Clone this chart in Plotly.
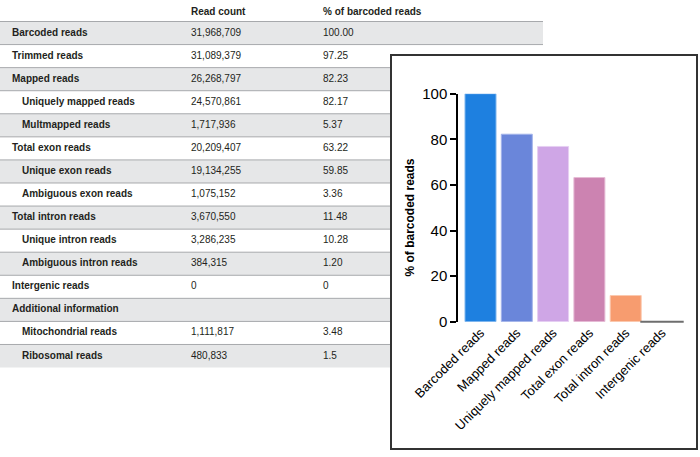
import plotly.graph_objects as go

# ---------------- Table data ----------------
row_labels = ["Barcoded reads", "Trimmed reads", "Mapped reads", "Uniquely mapped reads",
              "Multmapped reads", "Total exon reads", "Unique exon reads", "Ambiguous exon reads",
              "Total intron reads", "Unique intron reads", "Ambiguous intron reads",
              "Intergenic reads", "Additional information", "Mitochondrial reads", "Ribosomal reads"]
row_indent = [0, 0, 0, 1, 1, 0, 1, 1, 0, 1, 1, 0, 0, 1, 1]
read_counts = ["31,968,709", "31,089,379", "26,268,797", "24,570,861", "1,717,936", "20,209,407",
               "19,134,255", "1,075,152", "3,670,550", "3,286,235", "384,315", "0", "",
               "1,111,817", "480,833"]
pct_barcoded = ["100.00", "97.25", "82.23", "82.17", "5.37", "63.22", "59.85", "3.36",
                "11.48", "10.28", "1.20", "0", "", "3.48", "1.5"]
col_headers = ["Read count", "% of barcoded reads"]

# ---------------- Bar chart data ----------------
bar_categories = ["Barcoded reads", "Mapped reads", "Uniquely mapped reads",
                  "Total exon reads", "Total intron reads", "Intergenic reads"]
bar_values = [100.0, 82.23, 76.86, 63.22, 11.48, 0.0]
bar_colors = ["#1e80e0", "#6a86da", "#cfa6e6", "#cc83b1", "#f79c6f", "#6e6e6e"]
bar_edge_colors = ["#7fb6ee", "#a3b3ea", "#e6cff2", "#e6bcd6", "#fbc9af", "#6e6e6e"]
y_ticks = [0, 20, 40, 60, 80, 100]
y_title = "% of barcoded reads"

# ---------------- Layout constants ----------------
W, H = 700, 457
FONT = "Liberation Sans, Arial, Helvetica, sans-serif"
TXT = "#231f20"
TABLE_W = 543
TABLE_TOP = 21.5
ROW_H = 23.07
LABEL_X = [12, 22]
COL_X = [191, 323]
GRAY_ROW = "#e6e7e8"
SEP = "#a7a9ac"

fig = go.Figure()
n = len(row_labels)

# row backgrounds (alternate rows shaded)
gray_rows = [k for k in range(n) if k % 2 == 0]
fig.add_trace(go.Bar(
    orientation="h", y=[k + 0.5 for k in gray_rows], x=[TABLE_W] * len(gray_rows),
    base=0, width=1, marker=dict(color=GRAY_ROW, line=dict(width=0)),
    hoverinfo="skip", showlegend=False, xaxis="x", yaxis="y"))

# separators between rows
sx, sy = [], []
for k in range(n):
    sx += [0, TABLE_W, None]
    sy += [k, k, None]
fig.add_trace(go.Scatter(x=sx, y=sy, mode="lines", line=dict(color=SEP, width=1),
                         hoverinfo="skip", showlegend=False, xaxis="x", yaxis="y"))

# header
fig.add_trace(go.Scatter(x=COL_X, y=[-0.37, -0.37], mode="text",
                         text=[f"<b>{h}</b>" for h in col_headers], textposition="middle right",
                         textfont=dict(family=FONT, size=10, color=TXT),
                         hoverinfo="skip", showlegend=False, xaxis="x", yaxis="y"))
# labels
fig.add_trace(go.Scatter(x=[LABEL_X[i] for i in row_indent], y=[k + 0.5 for k in range(n)],
                         mode="text", text=[f"<b>{t}</b>" for t in row_labels],
                         textposition="middle right",
                         textfont=dict(family=FONT, size=10, color=TXT),
                         hoverinfo="skip", showlegend=False, xaxis="x", yaxis="y"))
for cx, col in zip(COL_X, [read_counts, pct_barcoded]):
    fig.add_trace(go.Scatter(x=[cx] * n, y=[k + 0.5 for k in range(n)], mode="text",
                             text=col, textposition="middle right",
                             textfont=dict(family=FONT, size=10, color=TXT),
                             hoverinfo="skip", showlegend=False, xaxis="x", yaxis="y"))

# inset box subplot (empty)
fig.add_trace(go.Scatter(x=[], y=[], xaxis="x2", yaxis="y2", showlegend=False, hoverinfo="skip"))

# bars
fig.add_trace(go.Bar(x=bar_categories, y=bar_values,
                     marker=dict(color=bar_colors, line=dict(color=bar_edge_colors, width=1)),
                     hoverinfo="skip", showlegend=False, xaxis="x3", yaxis="y3"))
# zero-height bars shown as a thin line
zero_idx = [i for i, v in enumerate(bar_values) if v == 0]
zc = [bar_colors[i] for i in zero_idx]
fig.add_trace(go.Scatter(x=[bar_categories[i] for i in zero_idx], y=[bar_values[i] for i in zero_idx],
                         mode="markers",
                         marker=dict(symbol="line-ew-open", size=31, color=zc,
                                     line=dict(color=zc, width=2)),
                         cliponaxis=False, hoverinfo="skip", showlegend=False,
                         xaxis="x3", yaxis="y3"))

hidden = dict(showgrid=False, zeroline=False, showticklabels=False, ticks="", showline=False,
              fixedrange=True, automargin=False)

fig.update_layout(
    template="none",
    width=W, height=H, autosize=False,
    margin=dict(l=0, r=0, t=0, b=0, pad=0, autoexpand=False),
    paper_bgcolor="white", plot_bgcolor="white",
    bargap=0.146,
    font=dict(family=FONT, color="black"),
    xaxis=dict(domain=[0, 1], range=[0, W], anchor="y", **hidden),
    yaxis=dict(domain=[0, 1], range=[(H - TABLE_TOP) / ROW_H, -TABLE_TOP / ROW_H], anchor="x", **hidden),
    xaxis2=dict(domain=[392 / W, 696 / W], range=[0, 1], anchor="y2", automargin=False,
                showgrid=False, zeroline=False, showticklabels=False, ticks="",
                showline=True, mirror=True, linecolor="#333333", linewidth=1.5, fixedrange=True),
    yaxis2=dict(domain=[1 - 448 / H, 1 - 56 / H], range=[0, 1], anchor="x2", automargin=False,
                showgrid=False, zeroline=False, showticklabels=False, ticks="",
                showline=True, mirror=True, linecolor="#333333", linewidth=1.5, fixedrange=True),
    xaxis3=dict(domain=[458 / W, 684.5 / W], range=[-0.62, 5.62], anchor="y3", automargin=False,
                showgrid=False, zeroline=False, showline=False, ticks="",
                tickangle=-45, tickfont=dict(family=FONT, size=13, color="black"),
                fixedrange=True),
    yaxis3=dict(domain=[1 - 321.7 / H, 1 - 93.7 / H], range=[0, 100], anchor="x3", automargin=False,
                tickvals=y_ticks, showgrid=False, zeroline=False,
                showline=True, linecolor="black", linewidth=1.5,
                ticks="outside", ticklen=6, tickwidth=1.5, tickcolor="black",
                tickfont=dict(family=FONT, size=15, color="black"),
                fixedrange=True),
    annotations=[dict(text=f"<b>{y_title}</b>", xref="paper", yref="paper",
                      x=410 / W, y=1 - 217.5 / H, textangle=-90, showarrow=False,
                      xanchor="center", yanchor="middle",
                      font=dict(family=FONT, size=12, color="black"))],
)

fig.write_html("out.html", config={"displayModeBar": False},
               post_script="document.body.style.margin='0';")
